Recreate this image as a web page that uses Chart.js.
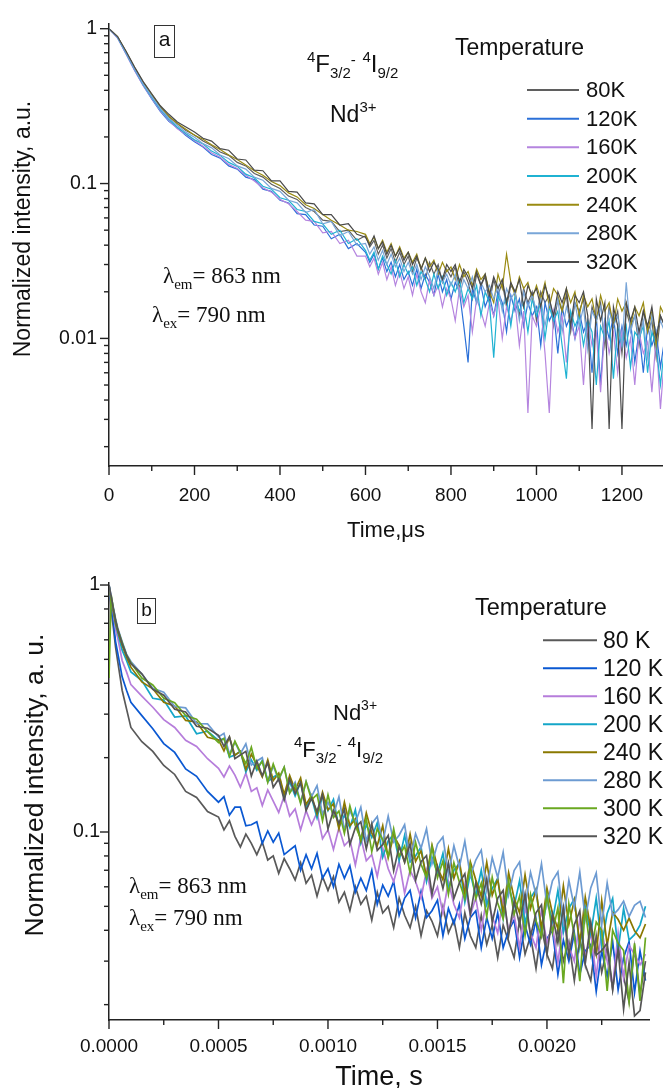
<!DOCTYPE html>
<html><head><meta charset="utf-8">
<script src="https://cdn.jsdelivr.net/npm/chart.js@4.4.1/dist/chart.umd.min.js"></script>
<style>
html,body{margin:0;padding:0;background:#fff;overflow:hidden;width:663px;height:1088px;}
#wa{position:absolute;left:0;top:0;width:663px;height:560px;}
#wb{position:absolute;left:0;top:540px;width:663px;height:560px;}
</style></head><body>
<div id="wa"><canvas id="ca" width="663" height="560"></canvas></div>
<div id="wb"><canvas id="cb" width="663" height="560"></canvas></div>
<script>
// ---------- Panel a data (time in microseconds) ----------
const timeA = [0,20,40,60,80,100,120,140,160,180,200,220,240,260,280,300,320,340,360,380,400,420,440,460,480,500,520,540,560,580,
600,610,620,630,640,650,660,670,680,690,700,710,720,730,740,750,760,770,780,790,800,810,820,830,840,850,860,870,880,890,
900,910,920,930,940,950,960,970,980,990,1000,1010,1020,1030,1040,1050,1060,1070,1080,1090,1100,1110,1120,1130,1140,1150,1160,1170,1180,1190,
1200,1210,1220,1230,1240,1250,1260,1270,1280,1290,1300];
const labelsA = ['80K','120K','160K','200K','240K','280K','320K'];
const a80K = [1.0,0.885,0.705,0.555,0.447,0.372,0.312,0.27,0.243,0.22,0.206,0.188,0.176,0.16,0.152,0.137,0.13,0.116,0.11,0.099,0.093,0.083,0.079,0.07,0.066,0.058,0.057,0.049,0.05,0.043,
0.046,0.039,0.043,0.035,0.04,0.033,0.038,0.031,0.036,0.03,0.034,0.027,0.033,0.029,0.024,0.031,0.026,0.03,0.023,0.028,0.025,0.029,0.021,0.027,0.023,0.018,0.026,0.022,0.025,0.017,
0.024,0.019,0.023,0.016,0.022,0.02,0.014,0.021,0.017,0.02,0.013,0.02,0.017,0.019,0.012,0.018,0.015,0.019,0.011,0.017,0.015,0.018,0.01,0.016,0.013,0.017,0.009,0.016,0.012,0.015,
0.008,0.015,0.012,0.014,0.009,0.015,0.011,0.013,0.0075,0.014,0.012];
const a120K = [1.0,0.875,0.69,0.54,0.43,0.352,0.292,0.252,0.228,0.204,0.186,0.172,0.154,0.146,0.13,0.124,0.11,0.106,0.092,0.089,0.078,0.075,0.064,0.063,0.054,0.053,0.044,0.047,0.038,0.041,
0.036,0.031,0.035,0.028,0.033,0.027,0.031,0.025,0.03,0.024,0.027,0.022,0.028,0.021,0.026,0.023,0.019,0.026,0.02,0.024,0.018,0.023,0.02,0.012,0.007,0.021,0.017,0.022,0.016,0.019,
0.014,0.02,0.017,0.011,0.019,0.015,0.018,0.012,0.017,0.014,0.016,0.009,0.017,0.013,0.015,0.008,0.016,0.012,0.014,0.01,0.015,0.011,0.013,0.006,0.014,0.005,0.013,0.01,0.014,0.008,
0.012,0.009,0.013,0.007,0.011,0.006,0.012,0.009,0.011,0.0065,0.01];
const a160K = [1.0,0.87,0.685,0.535,0.428,0.355,0.296,0.256,0.226,0.207,0.19,0.174,0.158,0.148,0.133,0.125,0.113,0.104,0.094,0.088,0.079,0.074,0.066,0.058,0.057,0.048,0.049,0.041,0.043,0.034,
0.034,0.029,0.033,0.026,0.031,0.024,0.029,0.022,0.027,0.021,0.025,0.019,0.026,0.02,0.017,0.024,0.019,0.022,0.016,0.021,0.018,0.013,0.021,0.016,0.019,0.011,0.018,0.015,0.012,0.017,
0.014,0.018,0.01,0.016,0.013,0.017,0.009,0.015,0.0033,0.014,0.012,0.016,0.008,0.0033,0.015,0.011,0.014,0.007,0.013,0.01,0.012,0.005,0.013,0.009,0.011,0.0045,0.012,0.008,0.011,0.006,
0.011,0.0075,0.01,0.005,0.011,0.008,0.0095,0.0045,0.01,0.0035,0.008];
const a200K = [1.0,0.878,0.695,0.545,0.435,0.36,0.3,0.26,0.231,0.21,0.192,0.18,0.162,0.152,0.137,0.129,0.115,0.109,0.096,0.092,0.081,0.078,0.068,0.066,0.057,0.055,0.047,0.05,0.041,0.044,
0.037,0.032,0.036,0.028,0.034,0.03,0.026,0.032,0.025,0.03,0.026,0.029,0.022,0.027,0.024,0.02,0.026,0.021,0.025,0.019,0.023,0.02,0.024,0.017,0.021,0.018,0.022,0.014,0.02,0.017,
0.0075,0.019,0.016,0.018,0.012,0.019,0.015,0.017,0.011,0.018,0.014,0.017,0.01,0.016,0.013,0.015,0.009,0.0055,0.015,0.012,0.014,0.009,0.013,0.011,0.005,0.012,0.01,0.013,0.0055,0.012,
0.009,0.012,0.0065,0.011,0.01,0.012,0.006,0.011,0.009,0.005,0.009];
const a240K = [1.0,0.89,0.71,0.56,0.45,0.375,0.315,0.272,0.244,0.224,0.205,0.193,0.178,0.166,0.153,0.143,0.132,0.121,0.113,0.103,0.097,0.087,0.082,0.073,0.069,0.063,0.058,0.054,0.05,0.049,
0.047,0.041,0.045,0.038,0.043,0.036,0.041,0.034,0.039,0.033,0.036,0.031,0.035,0.028,0.033,0.029,0.032,0.026,0.031,0.027,0.029,0.024,0.03,0.025,0.027,0.022,0.028,0.024,0.026,0.02,
0.017,0.026,0.021,0.035,0.023,0.019,0.025,0.021,0.023,0.018,0.022,0.018,0.023,0.016,0.021,0.019,0.015,0.021,0.017,0.02,0.014,0.019,0.016,0.018,0.013,0.019,0.015,0.017,0.012,0.018,
0.015,0.017,0.012,0.016,0.014,0.017,0.011,0.015,0.009,0.016,0.014];
const a280K = [1.0,0.882,0.7,0.55,0.44,0.366,0.306,0.264,0.237,0.214,0.199,0.181,0.17,0.153,0.145,0.13,0.124,0.11,0.105,0.093,0.089,0.078,0.075,0.065,0.068,0.055,0.057,0.046,0.049,0.04,
0.041,0.035,0.039,0.032,0.037,0.03,0.035,0.029,0.033,0.027,0.031,0.026,0.03,0.024,0.029,0.025,0.021,0.028,0.023,0.026,0.022,0.026,0.019,0.024,0.021,0.025,0.017,0.023,0.02,0.022,
0.018,0.022,0.015,0.021,0.018,0.02,0.013,0.02,0.016,0.019,0.015,0.018,0.012,0.017,0.014,0.018,0.011,0.016,0.013,0.017,0.012,0.016,0.0085,0.015,0.013,0.016,0.01,0.015,0.012,0.014,
0.009,0.023,0.011,0.014,0.01,0.013,0.0075,0.014,0.011,0.013,0.011];
const a320K = [1.0,0.89,0.715,0.565,0.455,0.38,0.318,0.28,0.25,0.232,0.215,0.196,0.188,0.168,0.164,0.144,0.142,0.122,0.121,0.104,0.104,0.089,0.088,0.075,0.074,0.063,0.063,0.054,0.055,0.047,
0.045,0.04,0.046,0.038,0.042,0.035,0.04,0.034,0.038,0.032,0.036,0.03,0.034,0.028,0.033,0.027,0.031,0.028,0.024,0.03,0.027,0.03,0.023,0.028,0.025,0.021,0.027,0.022,0.026,0.019,
0.025,0.021,0.024,0.017,0.023,0.02,0.024,0.016,0.022,0.019,0.021,0.016,0.022,0.018,0.014,0.02,0.017,0.021,0.012,0.019,0.017,0.02,0.014,0.0026,0.018,0.013,0.017,0.0026,0.016,0.012,
0.0026,0.017,0.013,0.016,0.011,0.015,0.012,0.016,0.01,0.014,0.012];
const colorsA = ['#5f5f5f','#2b70d8','#b585df','#1fb2d2','#9a8b12','#79a6d8','#4a4a4a'];
const xMajorA = [0,200,400,600,800,1000,1200];
const xLabelsA = ['0','200','400','600','800','1000','1200'];
const xMinorA = [100,300,500,700,900,1100];
const yMajorA = [0.01,0.1,1];
const yLabelsA = ['0.01','0.1','1'];
const yMinorA = [0.002,0.003,0.004,0.005,0.006,0.007,0.008,0.009,0.02,0.03,0.04,0.05,0.06,0.07,0.08,0.09,0.2,0.3,0.4,0.5,0.6,0.7,0.8,0.9];

// ---------- Panel b data (time in seconds) ----------
const timeB = [0,0.00001,0.00002,0.00003,0.00004,0.00006,0.00008,0.0001,0.00015,0.0002,0.00025,0.0003,0.00035,0.0004,0.00045,
0.0005,0.000525,0.00055,0.000575,0.0006,0.000625,0.00065,0.000675,0.0007,0.000725,0.00075,0.000775,0.0008,0.000825,0.00085,0.000875,0.0009,0.000925,0.00095,0.000975,
0.001,0.001025,0.00105,0.001075,0.0011,0.001125,0.00115,0.001175,0.0012,0.001225,0.00125,0.001275,0.0013,0.001325,0.00135,0.001375,0.0014,0.001425,0.00145,0.001475,
0.0015,0.001525,0.00155,0.001575,0.0016,0.001625,0.00165,0.001675,0.0017,0.001725,0.00175,0.001775,0.0018,0.001825,0.00185,0.001875,0.0019,0.001925,0.00195,0.001975,
0.002,0.002025,0.00205,0.002075,0.0021,0.002125,0.00215,0.002175,0.0022,0.002225,0.00225,0.002275,0.0023,0.002325,0.00235,0.002375,0.0024,0.002425,0.00245];
const labelsB = ['80 K','120 K','160 K','200 K','240 K','280 K','300 K','320 K'];
const b80K = [1.0,0.79,0.67,0.56,0.49,0.375,0.315,0.265,0.232,0.212,0.186,0.171,0.146,0.138,0.121,
0.115,0.102,0.111,0.096,0.087,0.098,0.09,0.081,0.091,0.077,0.08,0.068,0.078,0.071,0.064,0.075,0.062,0.067,0.055,0.066,
0.058,0.066,0.052,0.057,0.048,0.06,0.051,0.055,0.044,0.057,0.047,0.05,0.041,0.054,0.046,0.041,0.05,0.038,0.048,0.0435,
0.038,0.05,0.039,0.044,0.034,0.047,0.038,0.034,0.046,0.035,0.042,0.031,0.042,0.036,0.031,0.044,0.032,0.038,0.028,0.041,
0.032,0.028,0.041,0.03,0.036,0.025,0.037,0.029,0.025,0.038,0.027,0.034,0.023,0.035,0.026,0.0205,0.034,0.022,0.03];
const b120K = [1.0,0.83,0.71,0.59,0.53,0.425,0.375,0.335,0.296,0.262,0.228,0.21,0.18,0.168,0.146,
0.132,0.139,0.117,0.126,0.126,0.106,0.107,0.11,0.09,0.101,0.091,0.099,0.081,0.0845,0.088,0.07,0.081,0.071,0.082,0.065,
0.071,0.06,0.074,0.065,0.073,0.057,0.065,0.058,0.07,0.051,0.061,0.055,0.063,0.046,0.054,0.058,0.045,0.0575,0.045,0.048,
0.053,0.038,0.049,0.0425,0.051,0.037,0.045,0.048,0.034,0.045,0.037,0.047,0.034,0.04,0.044,0.031,0.042,0.035,0.044,0.029,
0.037,0.04,0.0265,0.0365,0.03,0.039,0.0265,0.033,0.035,0.0226,0.033,0.026,0.036,0.023,0.031,0.036,0.0224,0.033,0.025];
const b160K = [1.0,0.86,0.77,0.66,0.61,0.495,0.445,0.395,0.355,0.32,0.285,0.265,0.235,0.222,0.198,
0.181,0.167,0.185,0.17,0.152,0.173,0.146,0.151,0.128,0.148,0.1335,0.12,0.14,0.116,0.124,0.102,0.122,0.107,0.12,0.094,
0.102,0.085,0.104,0.088,0.093,0.0735,0.095,0.0765,0.081,0.066,0.086,0.071,0.063,0.076,0.0565,0.07,0.063,0.054,0.07,0.054,
0.06,0.047,0.063,0.051,0.045,0.061,0.046,0.054,0.04,0.054,0.0456,0.039,0.054,0.04,0.0465,0.034,0.0496,0.039,0.034,0.0486,
0.0355,0.042,0.0296,0.0435,0.0344,0.03,0.0446,0.031,0.039,0.026,0.0405,0.03,0.0238,0.039,0.0256,0.0347,0.032,0.029,0.032];
const b200K = [1.0,0.87,0.79,0.69,0.64,0.545,0.495,0.445,0.41,0.348,0.342,0.292,0.295,0.25,0.256,
0.235,0.239,0.201,0.205,0.212,0.175,0.196,0.178,0.195,0.16,0.1665,0.172,0.137,0.16,0.14,0.159,0.126,0.138,0.114,0.14,
0.122,0.1355,0.1045,0.117,0.104,0.123,0.09,0.107,0.095,0.109,0.079,0.092,0.098,0.0765,0.097,0.0757,0.08,0.087,0.063,0.079,
0.068,0.082,0.0587,0.07,0.0746,0.052,0.068,0.055,0.07,0.0507,0.059,0.065,0.0448,0.0605,0.05,0.0636,0.0426,0.054,0.0586,0.0388,
0.0534,0.0435,0.058,0.0393,0.049,0.0537,0.0342,0.0498,0.0387,0.054,0.0348,0.0468,0.0538,0.0332,0.049,0.0365,0.0384,0.042,0.05];
const b240K = [1.0,0.86,0.78,0.7,0.65,0.57,0.51,0.465,0.405,0.38,0.335,0.324,0.283,0.279,0.242,
0.236,0.213,0.242,0.2045,0.212,0.1795,0.2065,0.1865,0.167,0.196,0.1615,0.173,0.142,0.1695,0.148,0.1655,0.129,0.141,0.118,0.145,
0.123,0.13,0.103,0.132,0.106,0.113,0.092,0.1195,0.099,0.088,0.106,0.0786,0.097,0.088,0.0757,0.098,0.076,0.084,0.066,0.0885,
0.072,0.064,0.0857,0.065,0.076,0.0563,0.0758,0.064,0.055,0.0754,0.0554,0.0645,0.0472,0.0684,0.054,0.047,0.0671,0.049,0.0583,0.0406,
0.0592,0.0468,0.0406,0.0605,0.0422,0.053,0.0353,0.0545,0.0405,0.032,0.0528,0.0348,0.0473,0.0442,0.04,0.0448,0.0398,0.0373,0.0424];
const b280K = [1.0,0.9,0.81,0.73,0.67,0.59,0.525,0.49,0.436,0.382,0.368,0.322,0.318,0.275,0.274,
0.2425,0.251,0.2065,0.231,0.2075,0.2277,0.1865,0.194,0.2,0.16,0.185,0.162,0.183,0.146,0.159,0.132,0.16,0.139,0.154,0.118,
0.132,0.1175,0.139,0.102,0.122,0.109,0.126,0.0918,0.108,0.1155,0.0906,0.116,0.091,0.097,0.107,0.0778,0.0984,0.086,0.103,0.0744,
0.0894,0.0955,0.0672,0.088,0.072,0.0918,0.0662,0.077,0.0844,0.0582,0.0787,0.0654,0.0828,0.0556,0.0698,0.0757,0.05,0.0687,0.0558,0.0744,
0.0504,0.0635,0.069,0.0439,0.0638,0.0495,0.0688,0.0444,0.0594,0.0682,0.042,0.0622,0.0459,0.0485,0.0525,0.0455,0.0505,0.0524,0.0451];
const b300K = [0.42,0.91,0.8,0.72,0.66,0.585,0.52,0.485,0.42,0.394,0.348,0.334,0.296,0.286,0.255,
0.23,0.2395,0.2025,0.233,0.21,0.189,0.2205,0.181,0.193,0.159,0.1885,0.164,0.183,0.1435,0.156,0.1305,0.16,0.135,0.142,0.111,
0.1415,0.1145,0.1215,0.0987,0.1275,0.106,0.0936,0.113,0.0833,0.103,0.093,0.0796,0.103,0.0798,0.0877,0.0683,0.0908,0.074,0.0653,0.0869,
0.0653,0.0762,0.056,0.075,0.0627,0.0537,0.0732,0.0536,0.062,0.0454,0.0655,0.0516,0.0445,0.0634,0.0464,0.055,0.0382,0.0557,0.0437,0.0377,
0.0558,0.0392,0.0493,0.0244,0.0512,0.038,0.0249,0.049,0.032,0.0432,0.04,0.0227,0.04,0.0354,0.0331,0.0206,0.0354,0.0207,0.0374];
const b320K = [1.0,0.9,0.8,0.72,0.66,0.58,0.52,0.48,0.437,0.378,0.358,0.314,0.306,0.268,0.263,
0.2465,0.222,0.243,0.198,0.205,0.212,0.1685,0.194,0.169,0.191,0.1515,0.164,0.135,0.164,0.143,0.1585,0.122,0.137,0.121,0.1417,
0.103,0.1223,0.1085,0.1237,0.089,0.104,0.11,0.0854,0.108,0.0842,0.089,0.0969,0.0697,0.0875,0.0755,0.0897,0.0638,0.0759,0.0802,0.0559,
0.0724,0.059,0.0749,0.0538,0.0622,0.0678,0.0464,0.0622,0.0512,0.0646,0.0431,0.0539,0.058,0.0382,0.0523,0.0423,0.0561,0.0378,0.0471,0.0507,
0.0319,0.0463,0.0356,0.0494,0.0316,0.0421,0.048,0.0294,0.0432,0.0318,0.0331,0.0355,0.0231,0.0335,0.0192,0.0296,0.018,0.0189,0.027];
const colorsB = ['#595959','#0a58d2','#b67ddb','#14a6c8','#8a7800','#6d9bd2','#6aa821','#555555'];
const xMajorB = [0,0.0005,0.001,0.0015,0.002];
const xLabelsB = ['0.0000','0.0005','0.0010','0.0015','0.0020'];
const xMinorB = [0.00025,0.00075,0.00125,0.00175,0.00225];
const yMajorB = [0.1,1];
const yLabelsB = ['0.1','1'];
const yMinorB = [0.02,0.03,0.04,0.05,0.06,0.07,0.08,0.09,0.2,0.3,0.4,0.5,0.6,0.7,0.8,0.9];

const SANS = '"Liberation Sans", Arial, sans-serif';
const SERIF = '"Liberation Serif", "Times New Roman", serif';

function drawRich(ctx, x, y, segs, fam) {
  ctx.fillStyle = '#111';
  ctx.textBaseline = 'alphabetic';
  ctx.textAlign = 'left';
  let cx = x;
  segs.forEach(s => {
    ctx.font = s.s + 'px ' + fam;
    ctx.fillText(s.t, cx, y + (s.dy || 0));
    cx += ctx.measureText(s.t).width;
  });
}

const decor = {
  id: 'decor',
  afterDraw(chart, args, o) {
    const ctx = chart.ctx, xs = chart.scales.x, ys = chart.scales.y, ca = chart.chartArea;
    ctx.save();
    ctx.strokeStyle = '#222';
    ctx.lineWidth = 1.4;
    const seg = (x1, y1, x2, y2) => { ctx.beginPath(); ctx.moveTo(x1, y1); ctx.lineTo(x2, y2); ctx.stroke(); };
    o.yMajor.forEach(v => { const p = ys.getPixelForValue(v); seg(ca.left - 9, p, ca.left, p); });
    o.yMinor.forEach(v => { if (v < ys.min || v > ys.max) return; const p = ys.getPixelForValue(v); seg(ca.left - 5, p, ca.left, p); });
    o.xMajor.forEach(v => { const p = xs.getPixelForValue(v); seg(p, ca.bottom, p, ca.bottom + 9); });
    o.xMinor.forEach(v => { if (v > xs.max) return; const p = xs.getPixelForValue(v); seg(p, ca.bottom, p, ca.bottom + 5); });
    const L = o.legend;
    chart.data.datasets.forEach((ds, i) => {
      const y = L.y0 + i * L.dy;
      ctx.strokeStyle = ds.borderColor; ctx.lineWidth = L.lw;
      seg(L.x0, y, L.x1, y);
      ctx.fillStyle = '#111'; ctx.font = L.size + 'px ' + SANS;
      ctx.textAlign = 'left'; ctx.textBaseline = 'middle';
      ctx.fillText(ds.label, L.tx, y + 1);
    });
    const B = o.box;
    ctx.strokeStyle = '#333'; ctx.lineWidth = 1;
    ctx.strokeRect(B.x, B.y, B.w, B.h);
    ctx.fillStyle = '#111'; ctx.font = B.size + 'px ' + SANS;
    ctx.textAlign = 'center'; ctx.textBaseline = 'middle';
    ctx.fillText(B.t, B.x + B.w / 2, B.y + B.h / 2 + B.ty);
    o.texts.forEach(t => drawRich(ctx, t.x, t.y, t.segs, t.fam));
    o.titles.forEach(t => {
      ctx.save();
      ctx.translate(t.x, t.y);
      if (t.rot) ctx.rotate(-Math.PI / 2);
      ctx.fillStyle = '#111'; ctx.font = t.size + 'px ' + SANS;
      ctx.textAlign = 'center'; ctx.textBaseline = 'middle';
      ctx.fillText(t.t, 0, 0);
      ctx.restore();
    });
    ctx.restore();
  }
};

function makeChart(id, cfg) {
  const datasets = cfg.series.map((s, i) => ({
    label: cfg.labels[i],
    data: cfg.time.map((t, k) => ({ x: t, y: s[k] })),
    borderColor: cfg.colors[i],
    borderWidth: cfg.lw,
    pointRadius: 0,
    tension: 0,
    fill: false,
    order: cfg.series.length - i
  }));
  return new Chart(document.getElementById(id), {
    type: 'line',
    data: { datasets },
    plugins: [decor],
    options: {
      responsive: false, animation: false, devicePixelRatio: 1,
      layout: { padding: { left: 0, right: cfg.padR, top: cfg.padT, bottom: 0 } },
      plugins: { legend: { display: false }, tooltip: { enabled: false }, decor: cfg.decor },
      scales: {
        x: {
          type: 'linear', min: 0, max: cfg.xMax,
          afterFit: s => { s.height = cfg.xH; },
          afterBuildTicks: s => { s.ticks = cfg.xMajor.map(v => ({ value: v })); },
          ticks: { callback: (v, i) => cfg.xLabels[i], autoSkip: false, maxRotation: 0, padding: cfg.xPad,
                   color: '#111', font: { family: SANS, size: 19 } },
          grid: { display: false, drawTicks: false },
          border: { display: true, color: '#222', width: 1.5 }
        },
        y: {
          type: 'logarithmic', min: cfg.yMin, max: cfg.yMax,
          afterFit: s => { s.width = 109; },
          afterBuildTicks: s => { s.ticks = cfg.yMajor.map(v => ({ value: v, major: true })); },
          ticks: { callback: (v, i) => cfg.yLabels[i], autoSkip: false, padding: cfg.yPad,
                   color: '#111', font: { family: SANS, size: 19.5 } },
          grid: { display: false, drawTicks: false },
          border: { display: true, color: '#222', width: 1.5 }
        }
      }
    }
  });
}

makeChart('ca', {
  time: timeA, series: [a80K, a120K, a160K, a200K, a240K, a280K, a320K],
  labels: labelsA, colors: colorsA, lw: 1.2,
  xMax: 1296, yMin: 0.0015, yMax: 1.077, padR: 0, padT: 20, xH: 94, xPad: 18, yPad: 12,
  xMajor: xMajorA, xLabels: xLabelsA, yMajor: yMajorA, yLabels: yLabelsA,
  decor: {
    yMajor: yMajorA, yMinor: yMinorA, xMajor: xMajorA, xMinor: xMinorA,
    legend: { x0: 527, x1: 579, tx: 586, y0: 90, dy: 28.67, size: 22, lw: 2 },
    box: { x: 154.5, y: 25.5, w: 20, h: 32, t: 'a', size: 21, ty: -1 },
    texts: [
      { x: 455, y: 55, fam: SANS, segs: [{ t: 'Temperature', s: 23 }] },
      { x: 307, y: 72, fam: SANS, segs: [{ t: '4', s: 15, dy: -10 }, { t: 'F', s: 24 }, { t: '3/2', s: 15, dy: 6 }, { t: '-', s: 15, dy: -7 }, { t: ' ', s: 24 }, { t: '4', s: 15, dy: -10 }, { t: 'I', s: 24 }, { t: '9/2', s: 15, dy: 6 }] },
      { x: 330, y: 122, fam: SANS, segs: [{ t: 'Nd', s: 23 }, { t: '3+', s: 15, dy: -10 }] },
      { x: 163, y: 283, fam: SERIF, segs: [{ t: 'λ', s: 23 }, { t: 'em', s: 15, dy: 6 }, { t: '= 863 nm', s: 23 }] },
      { x: 152, y: 322, fam: SERIF, segs: [{ t: 'λ', s: 23 }, { t: 'ex', s: 15, dy: 6 }, { t: '= 790 nm', s: 23 }] }
    ],
    titles: [
      { t: 'Normalized intensity, a.u.', x: 24, y: 229, rot: true, size: 23 },
      { t: 'Time,μs', x: 386, y: 531, rot: false, size: 22 }
    ]
  }
});

makeChart('cb', {
  time: timeB, series: [b80K, b120K, b160K, b200K, b240K, b280K, b300K, b320K],
  labels: labelsB, colors: colorsB, lw: 1.7,
  xMax: 0.002466, yMin: 0.01733, yMax: 1.019, padR: 14, padT: 43, xH: 80, xPad: 15, yPad: 9,
  xMajor: xMajorB, xLabels: xLabelsB, yMajor: yMajorB, yLabels: yLabelsB,
  decor: {
    yMajor: yMajorB, yMinor: yMinorB, xMajor: xMajorB, xMinor: xMinorB,
    legend: { x0: 543, x1: 597, tx: 603, y0: 100.3, dy: 28, size: 23, lw: 2 },
    box: { x: 137.5, y: 58.5, w: 18, h: 25, t: 'b', size: 19, ty: 0 },
    texts: [
      { x: 475, y: 75, fam: SANS, segs: [{ t: 'Temperature', s: 23.5 }] },
      { x: 333, y: 180, fam: SANS, segs: [{ t: 'Nd', s: 22 }, { t: '3+', s: 14, dy: -10 }] },
      { x: 294, y: 217, fam: SANS, segs: [{ t: '4', s: 15, dy: -10 }, { t: 'F', s: 22 }, { t: '3/2', s: 15, dy: 6 }, { t: '-', s: 15, dy: -7 }, { t: ' ', s: 22 }, { t: '4', s: 15, dy: -10 }, { t: 'I', s: 22 }, { t: '9/2', s: 15, dy: 6 }] },
      { x: 129, y: 353, fam: SERIF, segs: [{ t: 'λ', s: 23 }, { t: 'em', s: 15, dy: 6 }, { t: '= 863 nm', s: 23 }] },
      { x: 129, y: 384.5, fam: SERIF, segs: [{ t: 'λ', s: 23 }, { t: 'ex', s: 15, dy: 6 }, { t: '= 790 nm', s: 23 }] }
    ],
    titles: [
      { t: 'Normalized intensity, a. u.', x: 36, y: 245, rot: true, size: 26.5 },
      { t: 'Time, s', x: 379, y: 538, rot: false, size: 27 }
    ]
  }
});
</script>
</body></html>
